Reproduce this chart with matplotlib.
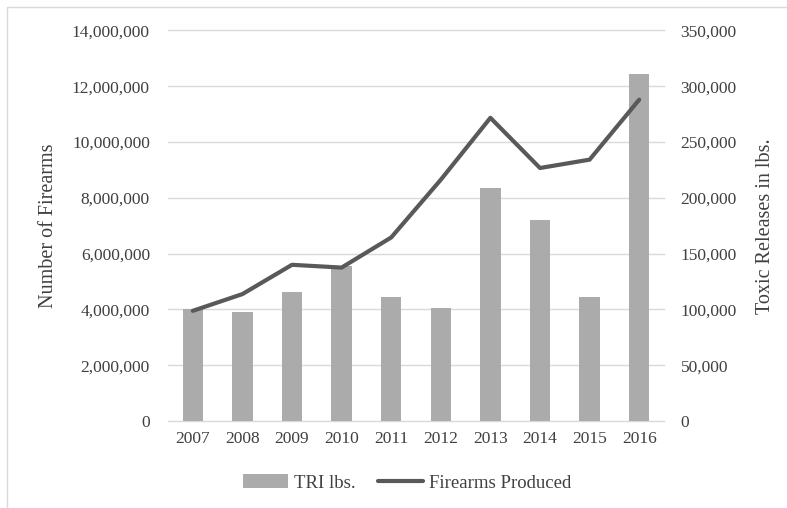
import matplotlib
matplotlib.use("Agg")
import matplotlib.pyplot as plt
from matplotlib.ticker import FuncFormatter
from matplotlib.patches import Rectangle

years = ["2007", "2008", "2009", "2010", "2011", "2012", "2013", "2014", "2015", "2016"]
tri_lbs = [100500, 97500, 116000, 138500, 110700, 101000, 208800, 180400, 110700, 311400]
firearms = [3950000, 4550000, 5600000, 5500000, 6580000, 8650000, 10870000, 9070000, 9370000, 11520000]

plt.rcParams["font.family"] = ["Liberation Serif", "DejaVu Serif"]
W, H = 787, 508
fig = plt.figure(figsize=(W / 100, H / 100), dpi=100)

left, right, top, bottom = 168, 664, 30.5, 421
ax = fig.add_axes([left / W, 1 - bottom / H, (right - left) / W, (bottom - top) / H])
ax2 = ax.twinx()

x = list(range(len(years)))
text_c = "#404040"

# bars on the secondary (right) axis, drawn beneath the line
ax2.bar(x, tri_lbs, width=0.41, color="#ababab", label="TRI lbs.", zorder=2)
ax2.set_ylim(0, 350000)
ax2.set_yticks(range(0, 350001, 50000))

ax.plot(x, firearms, color="#595959", lw=3, label="Firearms Produced",
        solid_capstyle="round", zorder=5)
ax.set_ylim(0, 14000000)
ax.set_yticks(range(0, 14000001, 2000000))
ax.set_xlim(-0.5, len(years) - 0.5)
ax.set_xticks(x)
ax.set_xticklabels(years)

# keep the line above the bars
ax.set_zorder(ax2.get_zorder() + 1)
ax.patch.set_visible(False)

fmt = FuncFormatter(lambda v, p: f"{int(v):,}")
ax.yaxis.set_major_formatter(fmt)
ax2.yaxis.set_major_formatter(fmt)

for a in (ax, ax2):
    for s in a.spines.values():
        s.set_visible(False)
    a.tick_params(length=0, labelsize=12.5, colors=text_c)

ax.tick_params(axis="y", pad=13)
ax.tick_params(axis="x", pad=7)
ax2.tick_params(axis="y", pad=12)

for v in range(0, 14000001, 2000000):
    ax2.axhline(v / 40, color="#d9d9d9", lw=1, zorder=0, clip_on=False)

ax.set_ylabel("Number of Firearms", fontsize=14.5, color=text_c, labelpad=10)
ax2.set_ylabel("Toxic Releases in lbs.", fontsize=14.5, color=text_c, labelpad=14)

h1, l1 = ax2.get_legend_handles_labels()
h2, l2 = ax.get_legend_handles_labels()
fig.legend(h1 + h2, l1 + l2, loc="center", bbox_to_anchor=(407 / W, 1 - 483 / H),
           ncol=2, frameon=False, fontsize=13.5, handlelength=2.4, columnspacing=1.2,
           handletextpad=0.3, labelcolor=text_c)

fig.patches.append(Rectangle((7 / W, -0.1), 1.2, 1 - 7 / H + 0.1, transform=fig.transFigure,
                             fill=False, edgecolor="#d9d9d9", lw=1))

fig.savefig("out.png", dpi=100, facecolor="white")
